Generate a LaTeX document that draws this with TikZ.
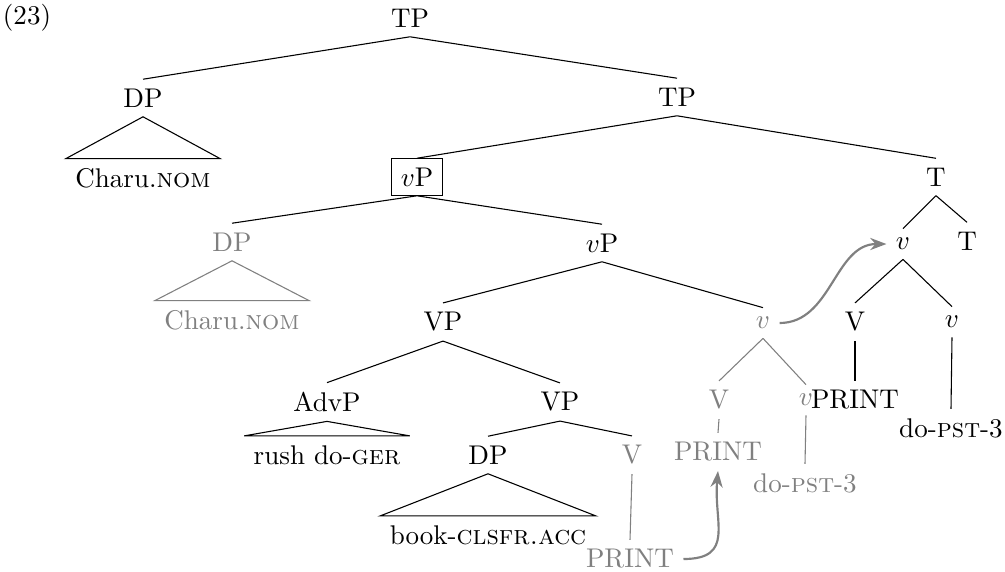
\documentclass[tikz,border=0pt]{standalone}
\usetikzlibrary{arrows.meta}
\tikzset{
  trace/.style={text=gray},
  traceline/.style={draw=gray},
  move/.style={draw=gray,thick,-{Stealth[length=6pt]}},
}
\begin{document}
\begin{tikzpicture}[x=0.013cm,y=-0.013cm]
\useasboundingbox (0,0) rectangle (1005,571);
\node (ex) at(27,18){(23)};
% upper spine
\node (tp) at(410,18){TP};
\node (dpa) at(143,98){DP};
\node (charua) at(143,178){Charu.\textsc{nom}};
\node (tpb) at(677,97){TP};
\node[draw] (vpa) at(417,177){$v$P};
\node (ta) at(936,177){T};
% vP shell
\node[trace] (dpb) at(232,242){DP};
\node[trace] (charub) at(232,320){Charu.\textsc{nom}};
\node (vpb) at(602,243){$v$P};
\node (vbig) at(903,244){$v$};
\node (tb) at(967,241){T};
\node (vpc) at(443,322){VP};
\node[trace] (vlow) at(763,323){$v$};
\node (vvb) at(855,322){V};
\node (vsb) at(952,322){$v$};
% VP
\node (advp) at(327,402){AdvP};
\node (rush) at(327,455){rush do-\textsc{ger}};
\node (vpd) at(560,402){VP};
\node (dpc) at(488,455){DP};
\node (book) at(488,535){book-\textsc{clsfr.acc}};
\node[trace] (vva) at(632,455){V};
\node[trace] (printa) at(630,559){PRINT};
% heads
\node[trace] (vvc) at(719,400){V};
\node[trace] (printb) at(718,452){PRINT};
\node[trace] (vsc) at(806,400){$v$};
\node[trace] (dopsta) at(805,483){do-\textsc{pst}-3};
\node (printc) at(855,400){PRINT};
\node (dopstb) at(951,428){do-\textsc{pst}-3};
% branches
\draw (tp.south)--(dpa.north) (tp.south)--(tpb.north);
\draw (tpb.south)--(vpa.north) (tpb.south)--(ta.north);
\draw (vpa.south)--(dpb.north) (vpa.south)--(vpb.north);
\draw (ta.south)--(vbig.north) (ta.south)--(tb.north);
\draw (vbig.south)--(vvb.north) (vbig.south)--(vsb.north);
\draw (vvb.south)--(printc.north);
\draw (vsb.south)--(dopstb.north);
\draw (vpb.south)--(vpc.north) (vpb.south)--(vlow.north);
\draw (vpc.south)--(advp.north) (vpc.south)--(vpd.north);
\draw (vpd.south)--(dpc.north) (vpd.south)--(vva.north);
\draw[traceline] (vlow.south)--(vvc.north) (vlow.south)--(vsc.north);
\draw[traceline] (vvc.south)--(printb.north);
\draw[traceline] (vsc.south)--(dopsta.north);
\draw[traceline] (vva.south)--(printa.north);
% roofs
\draw (dpa.south)--(charua.north west)--(charua.north east)--cycle;
\draw[traceline] (dpb.south)--(charub.north west)--(charub.north east)--cycle;
\draw (advp.south)--(rush.north west)--(rush.north east)--cycle;
\draw (dpc.south)--(book.north west)--(book.north east)--cycle;
% movement
\draw[move] (vlow.east) to[out=0,in=180] (vbig.west);
\draw[move] (printa.east) to[out=0,in=-95,looseness=1.4] (printb.south);
\end{tikzpicture}
\end{document}
